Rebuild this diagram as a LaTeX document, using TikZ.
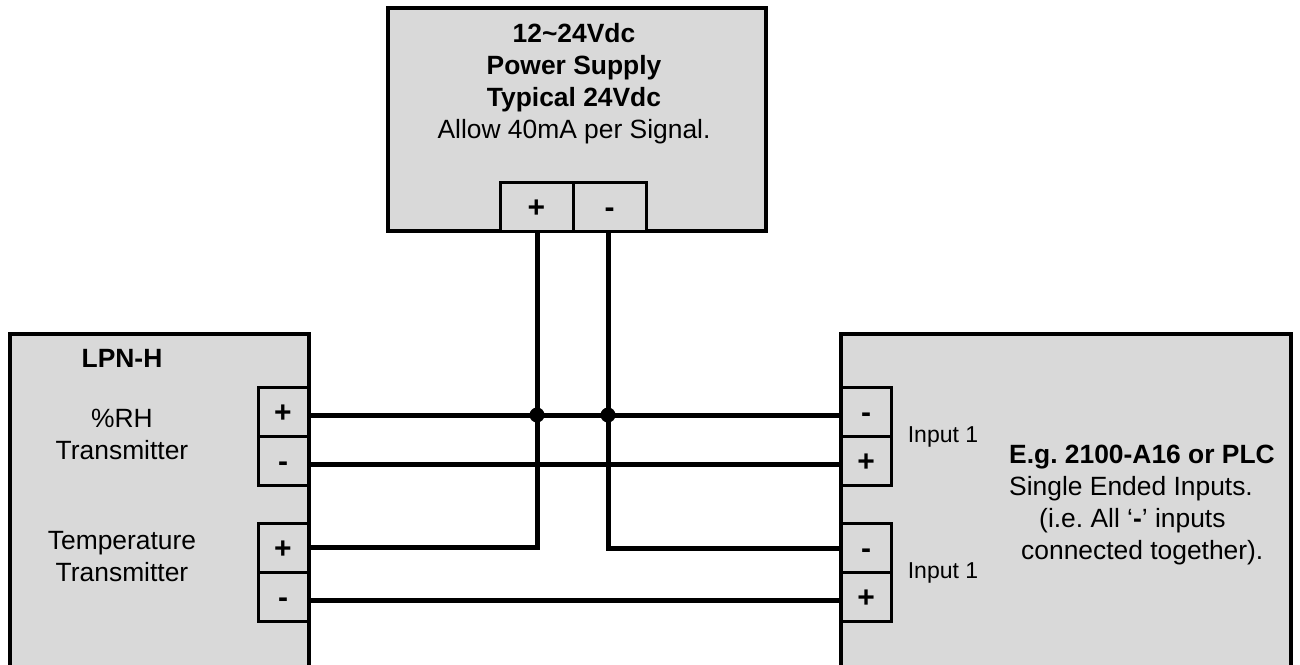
\documentclass[tikz,border=0pt]{standalone}
\usepackage{fontspec}
\setmainfont{Liberation Sans}
\definecolor{boxgray}{HTML}{D9D9D9}
\tikzset{
  device/.style={draw=black,line width=4pt,fill=boxgray,rectangle,inner sep=0pt,outer sep=0pt,anchor=north west},
  term/.style={draw=black,line width=3pt,fill=boxgray,rectangle,inner sep=0pt,outer sep=0pt,text height=21.5pt,text depth=0pt,font=\fontsize{30}{30}\selectfont\bfseries},
  wire/.style={draw=black,line width=5pt},
  junction/.style={circle,fill=black,draw=none,minimum size=15pt,inner sep=0pt},
  label/.style={inner sep=0pt,align=center,font=\fontsize{26.4}{32}\selectfont\frenchspacing},
  small/.style={inner sep=0pt,font=\fontsize{23}{23}\selectfont}
}
\begin{document}
\begin{tikzpicture}[x=1pt,y=-1pt]
\useasboundingbox (0,0) rectangle (1300,664);
\clip (0,0) rectangle (1300,664);
% devices
\node[device,minimum width=378pt,minimum height=223pt] (psu) at (387.5,8) {};
\node[device,minimum width=299pt,minimum height=360pt] (lpn) at (9.5,334) {};
\node[device,minimum width=450pt,minimum height=360pt] (plc) at (841,334) {};
% terminals
\node[term,minimum width=73pt,minimum height=49pt] (psup) at (536.5,207) {+};
\node[term,minimum width=73pt,minimum height=49pt] (psun) at (609.5,207) {-};
\node[term,minimum width=50pt,minimum height=49pt] (l1p) at (283,411.5) {+};
\node[term,minimum width=50pt,minimum height=49pt] (l1n) at (283,460.5) {-};
\node[term,minimum width=50pt,minimum height=49pt] (l2p) at (283,547.5) {+};
\node[term,minimum width=50pt,minimum height=49pt] (l2n) at (283,597) {-};
\node[term,minimum width=50pt,minimum height=49pt] (r1n) at (866,411.5) {-};
\node[term,minimum width=50pt,minimum height=49pt] (r1p) at (866,460.5) {+};
\node[term,minimum width=50pt,minimum height=49pt] (r2n) at (866,547.5) {-};
\node[term,minimum width=50pt,minimum height=49pt] (r2p) at (866,597) {+};
% wire end points
\coordinate (ls1) at (310,415);
\coordinate (le1) at (841,415);
\coordinate (ls2) at (310,464);
\coordinate (le2) at (841,464);
\coordinate (ls3) at (310,547);
\coordinate (ls4) at (310,600);
\coordinate (le3) at (841,548);
\coordinate (le4) at (841,600);
\coordinate (vp) at (537,233);
\coordinate (vn) at (608,233);
% wires
\draw[wire] (ls1) -- (le1);
\draw[wire] (ls2) -- (le2);
\draw[wire] (ls4) -- (le4);
\draw[wire] (vp) -- (537,547) -- (ls3);
\draw[wire] (vn) -- (608,548) -- (le3);
\node[junction] (j1) at (537,415) {};
\node[junction] (j2) at (608,415) {};
% texts
\node[label] (t1) at (574,84) {\bfseries 12\textasciitilde 24Vdc\\\bfseries Power Supply\\\bfseries Typical 24Vdc\\Allow 40mA per Signal.};
\node[label] (t2) at (122,358) {\bfseries LPN-H};
\node[label] (t3) at (122,434) {\%RH\\Transmitter};
\node[label] (t4) at (122,557) {Temperature\\Transmitter};
\node[small] (i1) at (943,436.5) {Input 1};
\node[small] (i2) at (943,572.5) {Input 1};
\node[label,align=left,anchor=west] (t5) at (1009,505) {\bfseries E.g. 2100-A16 or PLC\\Single Ended Inputs.\\\hspace*{30pt}(i.e. All ‘{\bfseries -}’ inputs\\\hspace*{12pt}connected together).};
\end{tikzpicture}
\end{document}
